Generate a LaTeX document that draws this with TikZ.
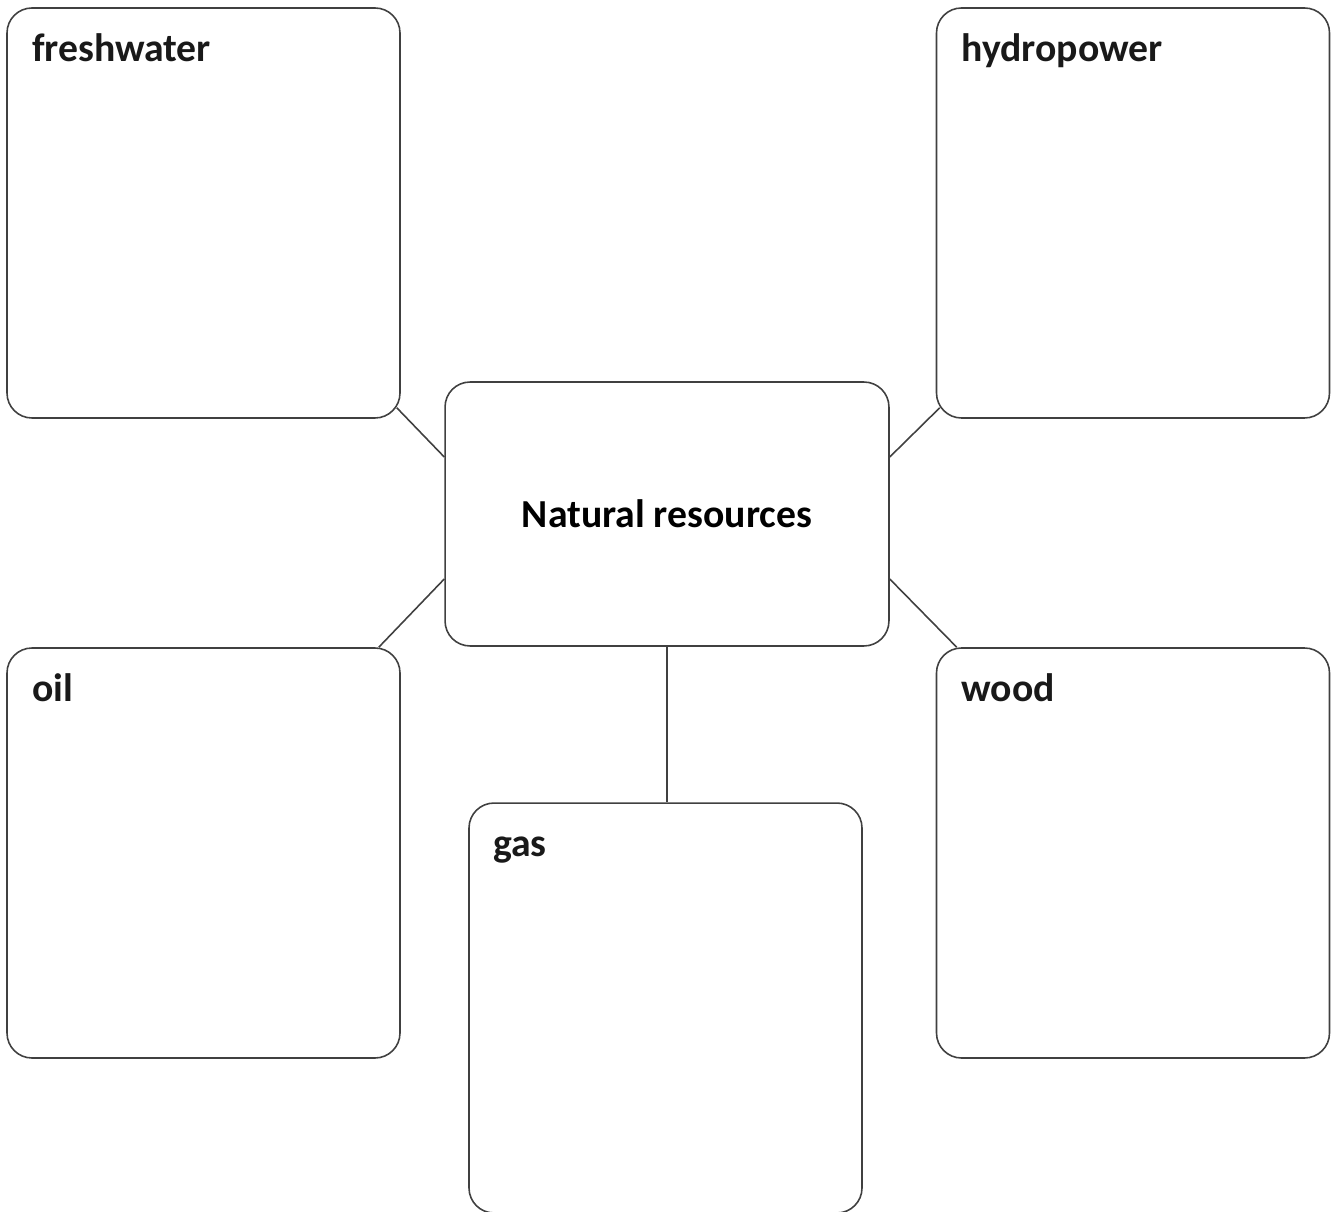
\documentclass[tikz,border=0pt]{standalone}
\usepackage{fontspec}
\setmainfont{Carlito}
\usepackage{tikz}
\usetikzlibrary{calc}
\def\boxw{393}
\def\boxh{410}

\begin{document}
\begin{tikzpicture}[x=0.02cm,y=-0.02cm,draw=black!75,line width=0.9pt]
    \tikzstyle{box}=[rectangle,draw,rounded corners=0.5cm,inner sep=0pt]
    \tikzstyle{topic box}=[box,minimum width=\boxw*0.02cm,minimum height=\boxh*0.02cm]
    \tikzstyle{centre box}=[box,minimum width=8.88cm,minimum height=5.28cm,font=\fontsize{22.6}{27}\selectfont\bfseries]
    \tikzstyle{tag}=[anchor=base west,inner sep=0pt,font=\fontsize{22.6}{27}\selectfont\bfseries,text=black!90]

    \useasboundingbox (0,0) rectangle (1338,1212);

    % Draw the centre node
    \node[centre box] (centre) at (667,514) {Natural resources};

    % Draw the topic boxes
    \node[topic box] (fresh) at (203.5,213) {};
    \node[topic box] (hydro) at (1133,213) {};
    \node[topic box] (oil) at (203.5,853) {};
    \node[topic box] (wood) at (1133,853) {};
    \node[topic box,minimum height=8.2cm] (gas) at (665.5,1008) {};

    % Name the topic boxes
    \node[tag] (fresh-t) at ($(fresh.north west)+(25,54)$) {freshwater};
    \node[tag] (hydro-t) at ($(hydro.north west)+(25,54)$) {hydropower};
    \node[tag] (oil-t) at ($(oil.north west)+(25,54)$) {oil};
    \node[tag] (wood-t) at ($(wood.north west)+(25,54)$) {wood};
    \node[tag] (gas-t) at ($(gas.north west)+(24,54)$) {gas};

    % Connect the centre with every topic box
    \draw ($(fresh.south east)+(-4,-11)$) -- ($(centre.west)+(0,-57)$);
    \draw ($(hydro.south west)+(4,-11)$) -- ($(centre.east)+(0,-57)$);
    \draw ($(oil.north east)+(-22,0)$) -- ($(centre.west)+(0,65)$);
    \draw ($(wood.north west)+(21,0)$) -- ($(centre.east)+(0,65)$);
    \draw (centre.south) -- (centre.south |- gas.north);
\end{tikzpicture}
\end{document}
